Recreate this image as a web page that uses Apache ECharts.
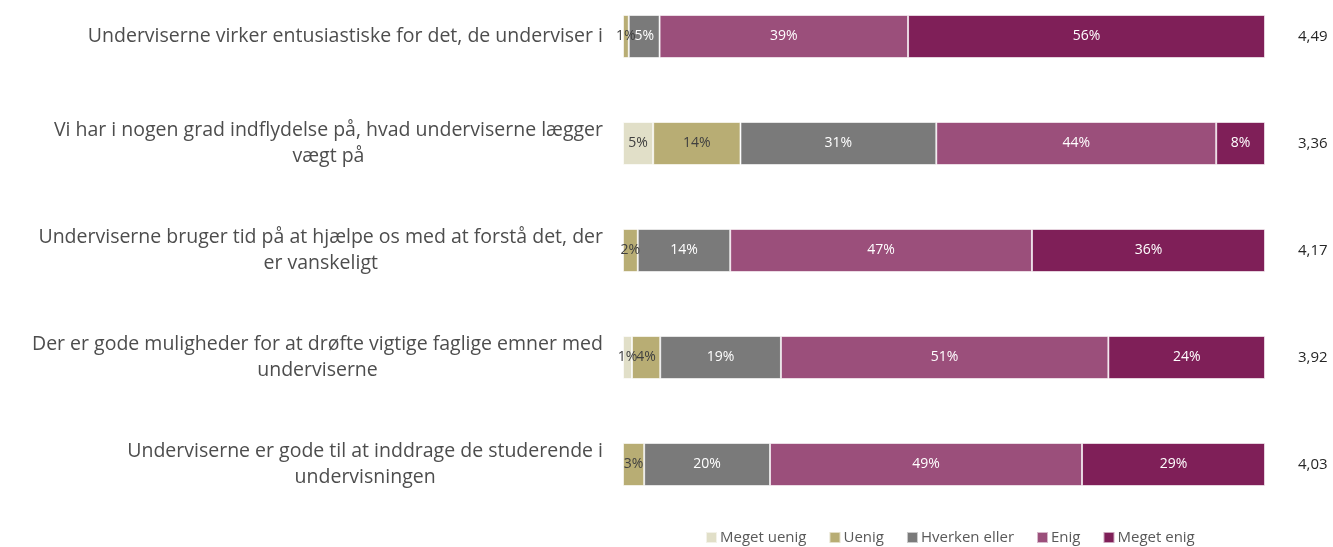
<!DOCTYPE html>
<html>
<head>
<meta charset="utf-8">
<script src="https://cdn.jsdelivr.net/npm/echarts@6/dist/echarts.min.js"></script>
<style>
  html, body { margin: 0; padding: 0; background: #fff; }
  #chart { width: 1333px; height: 547px; }
</style>
</head>
<body>
<div id="chart"></div>
<script>
// spørgsmål (top til bund)
const categories = [
  "Underviserne virker entusiastiske for det, de underviser i",
  "Vi har i nogen grad indflydelse på, hvad underviserne lægger\nvægt på",
  "Underviserne bruger tid på at hjælpe os med at forstå det, der\ner vanskeligt",
  "Der er gode muligheder for at drøfte vigtige faglige emner med\nunderviserne",
  "Underviserne er gode til at inddrage de studerende i\nundervisningen"
];
const means = ["4,49", "3,36", "4,17", "3,92", "4,03"];

// andele i procent
const megetUenig = [0, 4.7, 0, 1.4, 0];
const uenig = [0.9, 13.6, 2.3, 4.4, 3.3];
const hverken = [4.8, 30.5, 14.4, 18.8, 19.6];
const enig = [38.7, 43.6, 47.0, 51.0, 48.6];
const megetEnig = [55.6, 7.6, 36.3, 24.4, 28.5];

const seriesNames = ["Meget uenig", "Uenig", "Hverken eller", "Enig", "Meget enig"];
const seriesData = [megetUenig, uenig, hverken, enig, megetEnig];
const colors = ["#e1dfc8", "#b8ad74", "#7a7a7a", "#9b4f7b", "#7f1f58"];
const labelColors = ["#404040", "#404040", "#ffffff", "#ffffff", "#ffffff"];

const chart = echarts.init(document.getElementById("chart"));

const series = seriesData.map((d, i) => ({
  name: seriesNames[i],
  type: "bar",
  stack: "total",
  barWidth: 43,
  data: d,
  itemStyle: {
    color: colors[i],
    borderColor: "rgba(255,255,255,0.6)",
    borderWidth: 1,
  },
  label: {
    show: true,
    position: "inside",
    color: labelColors[i],
    fontFamily: "Open Sans",
    fontSize: 14,
    formatter: (p) => (p.value > 0 ? Math.round(p.value) + "%" : ""),
  },
}));

chart.setOption({
  animation: false,
  textStyle: { fontFamily: "Open Sans" },
  grid: {
    left: 623,
    right: 68,
    top: 36.5,
    bottom: 82.5,
  },
  legend: {
    data: seriesNames,
    bottom: -3,
    left: 700,
    itemWidth: 11,
    itemHeight: 11,
    itemGap: 22,
    icon: "rect",
    textStyle: { color: "#595959", fontSize: 15, fontFamily: "Open Sans", padding: [0, 0, 0, -2] },
  },
  xAxis: {
    type: "value",
    min: 0,
    max: 100,
    show: false,
  },
  yAxis: [
    {
      type: "category",
      inverse: true,
      boundaryGap: false,
      data: categories,
      axisLine: { show: false },
      axisTick: { show: false },
      axisLabel: {
        margin: 20,
        color: "#4d4d4d",
        fontSize: 19.5,
        lineHeight: 26,
        formatter: (v) => v.split("\n").map((l) => "{c|" + l + "}").join("\n"),
        rich: {
          c: { align: "center", fontSize: 19.5, lineHeight: 26, color: "#4d4d4d", fontFamily: "Open Sans" },
        },
      },
    },
    {
      type: "category",
      inverse: true,
      boundaryGap: false,
      position: "right",
      data: means,
      axisLine: { show: false },
      axisTick: { show: false },
      axisLabel: {
        margin: 33,
        color: "#262626",
        fontSize: 15,
        padding: [8, 0, 0, 0],
      },
    },
  ],
  series: series,
});
</script>
</body>
</html>
